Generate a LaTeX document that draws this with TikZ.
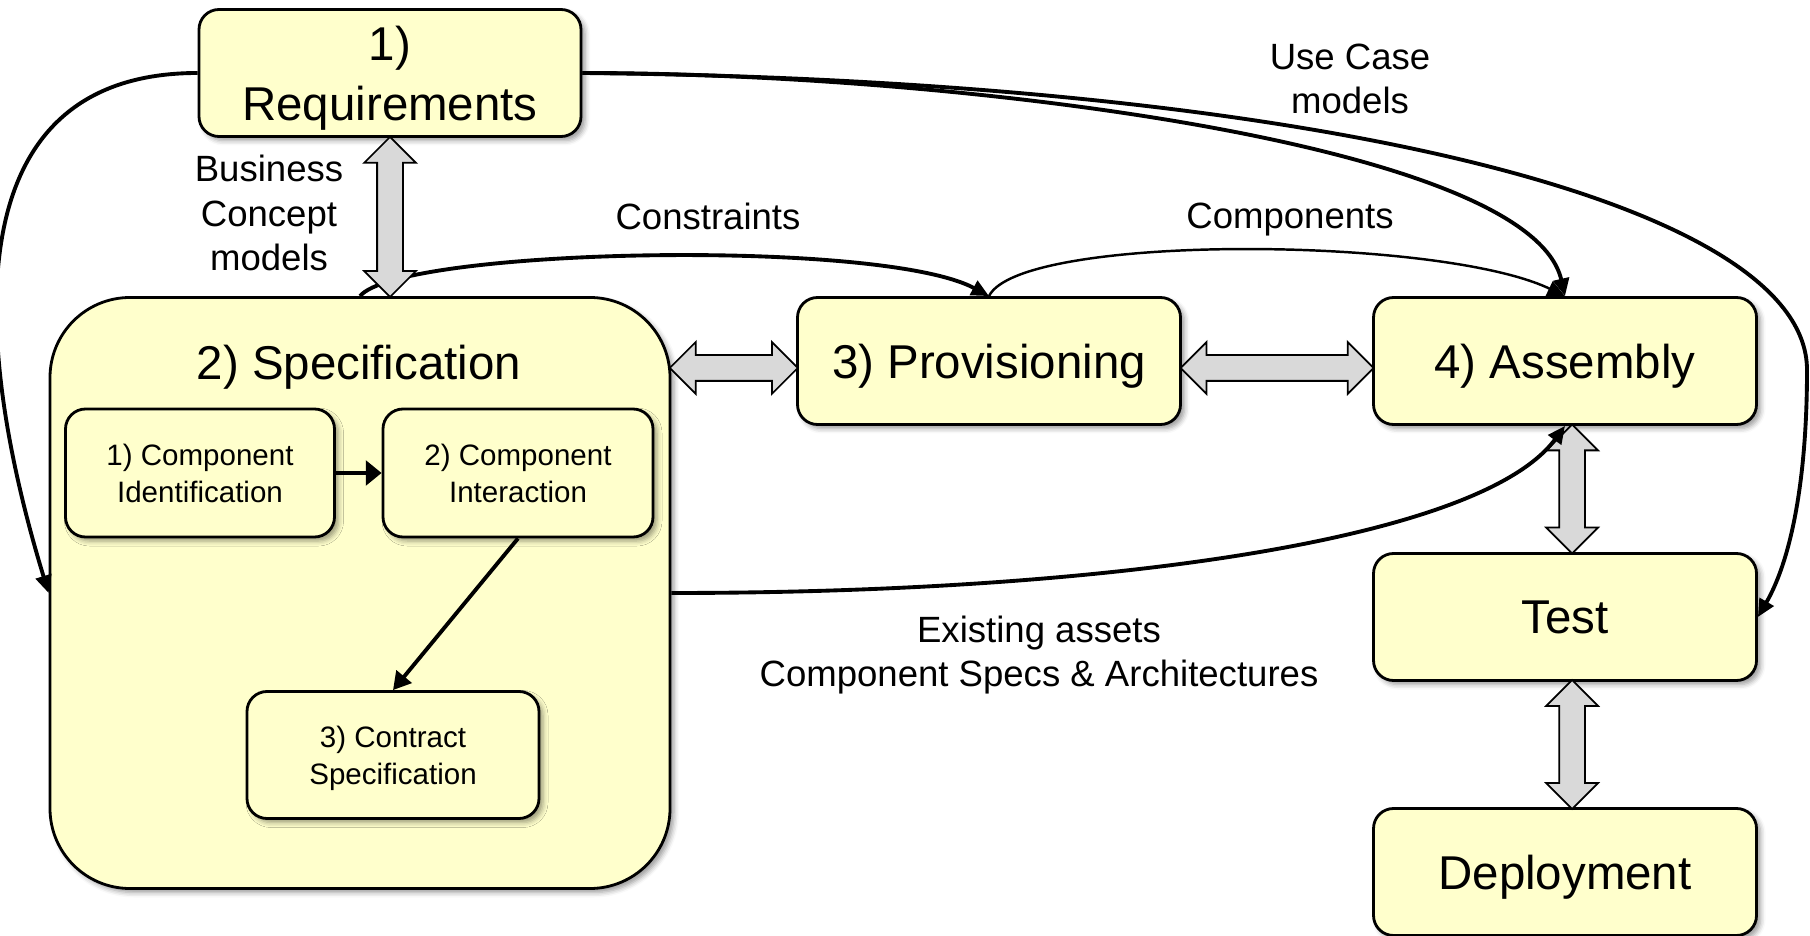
\documentclass[tikz,border=0pt]{standalone}
\usepackage{fontspec}
\setmainfont{Liberation Sans}
\usepackage{xcolor}
\usepackage{tikz}
\usetikzlibrary{arrows.meta, calc, shapes.arrows, shadows.blur}

\definecolor{phasefill}{HTML}{FFFFCC}
\definecolor{blockgray}{HTML}{D9D9D9}

\begin{document}
\begin{tikzpicture}[
                phase/.style={rectangle, rounded corners=0.2cm, draw, line width=0.8pt, fill=phasefill,
                    align=center, inner sep=0pt, minimum width=3.83cm, minimum height=1.27cm,
                    text depth=0pt, font=\fontsize{13.5}{17}\selectfont,
                    blur shadow={shadow xshift=0.04cm, shadow yshift=-0.04cm, shadow blur radius=0.05cm, shadow opacity=40}},
                activity/.style={phase, font=\fontsize{8.4}{10.5}\selectfont, minimum height=1.28cm},
                flow/.style={line width=1.1pt, -{Triangle[length=5pt, width=4.5pt]}},
                exchange/.style={double arrow, draw, line width=0.5pt, fill=blockgray, inner xsep=0pt,
                    inner ysep=0.12cm, double arrow head extend=0.13cm, minimum width=0.5cm},
                note/.style={align=center, text depth=0pt, font=\fontsize{10.4}{12.6}\selectfont}
            ]
                \useasboundingbox (0,0) rectangle (18.10,-9.36);

                % Phase 2 : le grand bloc et ses trois activités
                \node[phase, rounded corners=0.8cm, minimum width=6.20cm, minimum height=5.91cm] (Spec) at (3.60,-5.93) {};
                \node[text depth=0pt, font=\fontsize{13.5}{17}\selectfont] (SpecT) at (3.59,-3.62) {2) Specification};
                \node[activity, minimum width=2.69cm] (C1) at (2.00,-4.73) {1) Component\\Identification};
                \node[activity, minimum width=2.70cm] (C2) at (5.18,-4.73) {2) Component\\Interaction};
                \node[activity, minimum width=2.92cm, minimum height=1.27cm] (C3) at (3.93,-7.55) {3) Contract\\Specification};

                % Les autres phases
                \node[phase, minimum width=3.82cm] (Req) at (3.90,-0.73) {1)\\Requirements};
                \node[phase] (Prov) at (9.89,-3.61) {3) Provisioning};
                \node[phase] (Asm) at (15.65,-3.61) {4) Assembly};
                \node[phase] (Test) at (15.65,-6.17) {Test};
                \node[phase] (Depl) at (15.65,-8.72) {Deployment};

                % Étiquettes des flux
                \node[note] (Lbcm) at (2.69,-2.13) {Business\\Concept\\models};
                \node[note] (Lcons) at (7.08,-2.16) {Constraints};
                \node[note] (Lcomp) at (12.90,-2.16) {Components};
                \node[note] (Luse) at (13.50,-0.79) {Use Case\\models};
                \node[note] (Lexist) at (10.39,-6.51) {Existing assets\\Component Specs \& Architectures};

                \draw[flow] (Spec.north) .. controls +(0.40,0.48) and +(-1.08,0.58) .. (Prov.north);

                % Échanges dans les deux sens (grosses flèches grises)
                \node[exchange, rotate=90, minimum height=1.60cm] (RS) at ($(Req.south)!0.5!(Req.south |- Spec.north)$) {};
                \node[exchange, minimum height=1.28cm] (SP) at ($(Spec.east |- Prov.west)!0.5!(Prov.west)+(0,-0.07)$) {};
                \node[exchange, minimum height=1.93cm] (PA) at ($(Prov.east)!0.5!(Asm.west)+(0,-0.07)$) {};
                \node[exchange, rotate=90, minimum height=1.29cm] (AT) at ($(Asm.south)!0.5!(Test.north)+(0.07,0)$) {};
                \node[exchange, rotate=90, minimum height=1.29cm] (TD) at ($(Test.south)!0.5!(Depl.north)+(0.07,0)$) {};

                % Flux entre les phases
                \coordinate (UCbend) at (18.07,-3.70);
                \draw[flow] (Req.west) .. controls +(-2.39,0) and +(-0.80,2.62) .. (Spec.west);
                \draw[flow] (Req.east) .. controls +(3.69,0) and +(-0.35,1.53) .. (Asm.north);
                \draw[flow] (Req.east) .. controls +(7.19,-0.07) and +(0,1.70) .. (UCbend)
                    .. controls +(0,-1.10) and +(0.33,0.57) .. (Test.east);
                \draw[flow, line width=0.7pt] (Prov.north) .. controls +(0.31,0.63) and +(-1.25,0.60) .. (Asm.north);
                \draw[flow] (Spec.east) .. controls +(4.30,0) and +(-0.85,-1.15) .. (Asm.south);

                % Enchaînement des activités
                \draw[line width=1.1pt, -{Triangle[length=4.5pt, width=7pt]}] (C1) -- (C2);
                \draw[flow, -{Triangle[length=5pt, width=5.5pt]}] (C2.south) -- (C3.north);
            \end{tikzpicture}
\end{document}
